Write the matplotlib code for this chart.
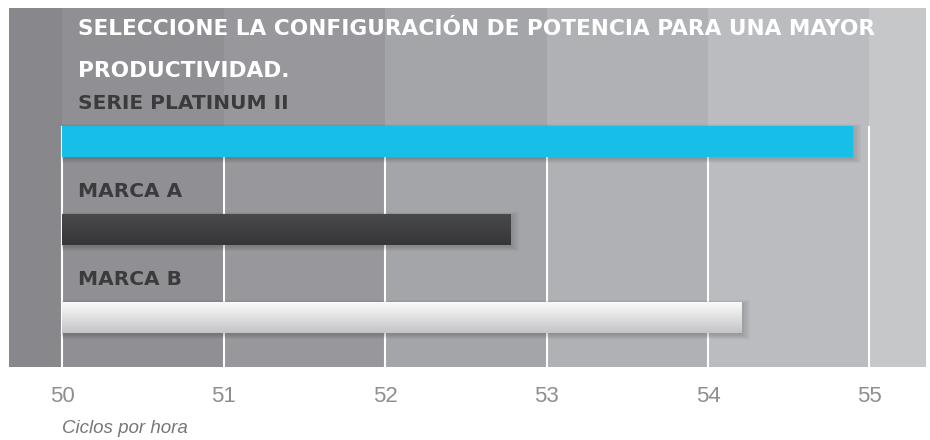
import numpy as np
import matplotlib.pyplot as plt

# data
series = ["SERIE PLATINUM II", "MARCA A", "MARCA B"]
ciclos = [54.9, 52.78, 54.21]
ticks = [50, 51, 52, 53, 54, 55]
title_lines = ["SELECCIONE LA CONFIGURACIÓN DE POTENCIA PARA UNA MAYOR", "PRODUCTIVIDAD."]
xlabel = "Ciclos por hora"

plt.rcParams['font.family'] = ['Liberation Sans', 'DejaVu Sans']

fig = plt.figure(figsize=(9.3, 4.4), dpi=100)
ax = fig.add_axes([9 / 930, 73 / 440, 917 / 930, 359 / 440])
xmin, xmax = 49.67, 55.35
ax.set_xlim(xmin, xmax)
ax.set_ylim(2.56, -1.52)

# background bands, getting lighter to the right
band_colors = ['#88888c', '#909094', '#98989c', '#a4a5a8', '#b0b1b4', '#bbbcbf', '#c6c7c9']
edges = [xmin] + ticks + [xmax]
for i in range(len(edges) - 1):
    ax.axvspan(edges[i], edges[i + 1], color=band_colors[i], zorder=0, lw=0)

bar_h = 0.35
y = np.arange(len(series))
widths = [v - ticks[0] for v in ciclos]

# grid lines start at the top of the first bar
ax.vlines(ticks, 2.56, y[0] - bar_h / 2, colors='white', lw=1.5, zorder=1)

# soft shadows
for k in range(5):
    ax.barh(y + 0.02, [w + 0.012 * k for w in widths], left=ticks[0],
            height=bar_h + 0.025 * k, color='black', alpha=0.035, zorder=1.5, lw=0)

bars = ax.barh(y, widths, left=ticks[0], height=bar_h,
               color=['#17bee8', '#404143', '#e4e4e6'], zorder=2, lw=0)

# vertical gradients on dark and light bars
grads = {1: ('#48494b', '#363638'), 2: ('#fbfbfb', '#c4c4c7')}
for idx, (c_top, c_bot) in grads.items():
    b = bars[idx]
    x0, y0 = b.get_x(), b.get_y()
    w, h = b.get_width(), b.get_height()
    top = np.array(plt.matplotlib.colors.to_rgb(c_top))
    bot = np.array(plt.matplotlib.colors.to_rgb(c_bot))
    t = np.linspace(0, 1, 64)[:, None]
    img = (top * (1 - t) + bot * t)[:, None, :]
    im = ax.imshow(img, extent=[x0, x0 + w, y0 + h, y0], aspect='auto',
                   zorder=2.5, interpolation='bilinear')
    im.set_clip_path(b)

bold = ['DejaVu Sans']

# series labels above bars
for i, name in enumerate(series):
    ax.text(50.1, i - 0.43, name, color='#3b3b3d', fontsize=14.5, fontweight='bold',
            family=bold, va='center', ha='left', zorder=3)

# title
ax.text(50.1, -1.28, title_lines[0], color='white', fontsize=15.6, fontweight='bold',
        family=bold, va='center', ha='left', zorder=3)
ax.text(50.1, -0.8, title_lines[1], color='white', fontsize=15.6, fontweight='bold',
        family=bold, va='center', ha='left', zorder=3)

ax.set_xticks(ticks)
ax.set_xticklabels([str(t) for t in ticks], fontsize=16, color='#8e8e8e')
ax.tick_params(axis='x', length=0, pad=14)
ax.set_yticks([])
for s in ax.spines.values():
    s.set_visible(False)

fig.text(62 / 930, 1 - 428 / 440, xlabel, fontsize=13.5, style='italic',
         color='#777777', va='center', ha='left')

fig.savefig('out.png', dpi=100)
